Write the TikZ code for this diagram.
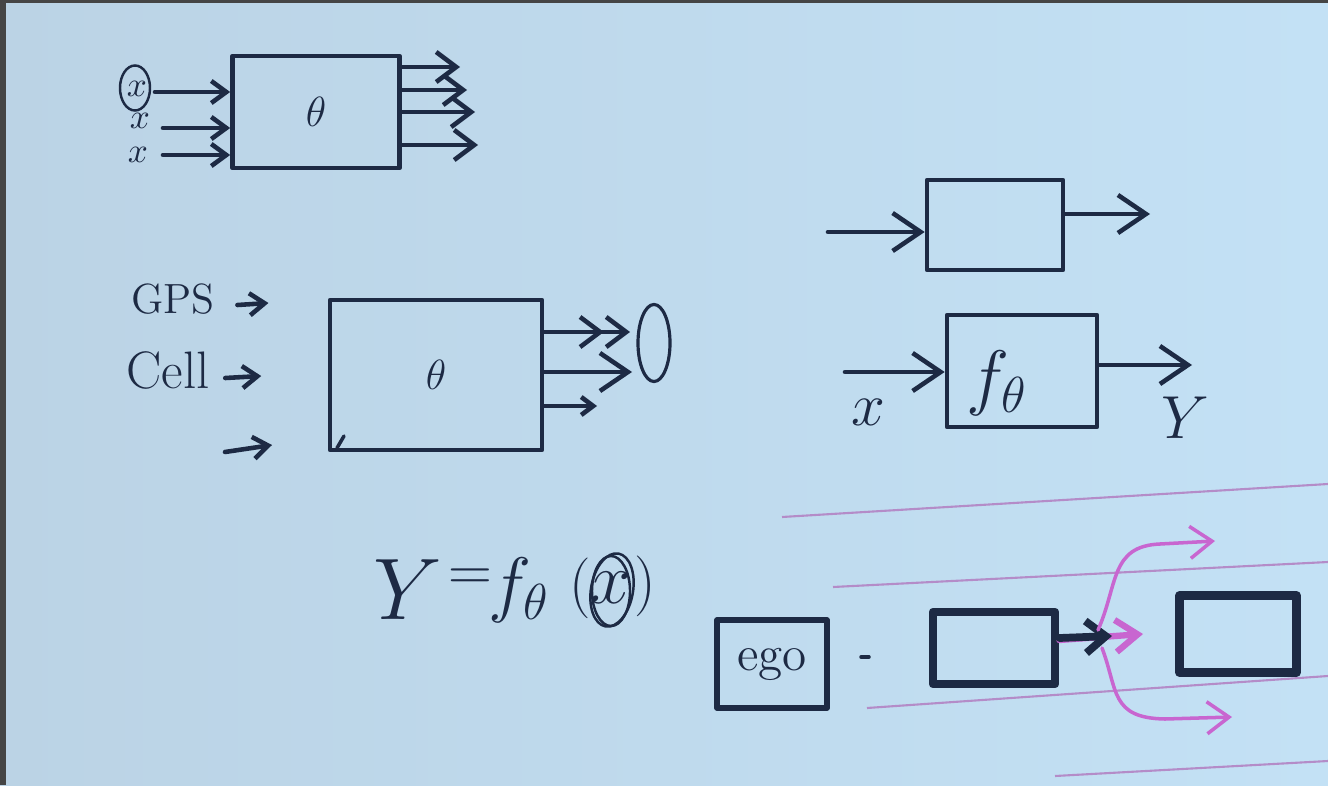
\documentclass[tikz,border=0pt]{standalone}
\usetikzlibrary{arrows.meta,shapes.geometric}
\definecolor{ink}{HTML}{1D2A44}
\definecolor{bgl}{HTML}{BBD3E5}
\definecolor{bgr}{HTML}{C3E1F5}
\definecolor{framec}{HTML}{454545}
\definecolor{mag}{HTML}{C866D0}
\definecolor{lane}{HTML}{B48CC8}
\begin{document}
\begin{tikzpicture}[x=0.01cm,y=-0.01cm,
  ink/.style={draw=ink, line width=1.3pt, line cap=round, line join=round},
  arr/.style={ink, -{Straight Barb[length=2mm,width=3mm]}},
  barr/.style={ink, -{Straight Barb[length=2.8mm,width=3.8mm]}},
  sarr/.style={ink, -{Straight Barb[length=1.5mm,width=2.2mm]}},
  blk/.style={ink, rectangle, inner sep=0pt, text=ink},
  boldbox/.style={blk, line width=2.4pt},
  lbl/.style={text=ink, inner sep=0pt},
  ring/.style={draw=ink, line width=0.7pt, ellipse, inner sep=0pt},
  laneline/.style={draw=lane, line width=0.6pt},
  magarr/.style={draw=mag, line width=1pt, line cap=round, -{Straight Barb[length=2.2mm,width=3.2mm]}}]
\useasboundingbox (0,0) rectangle (1328,785);
\shade[left color=bgl, right color=bgr] (0,0) rectangle (1328,785);
\fill[framec] (0,0) rectangle (6,785);
\fill[framec] (0,0) rectangle (1328,3);

% ---------- top box ----------
\node[blk, minimum width=1.67cm, minimum height=1.12cm, font=\fontsize{13}{15}\selectfont] (b1) at (316,112) {$\theta$};
\node[lbl, font=\fontsize{10}{12}\selectfont] (x1) at (137,89) {$x$};
\node[lbl, font=\fontsize{10}{12}\selectfont] (x2) at (140,121) {$x$};
\node[lbl, font=\fontsize{10}{12}\selectfont] (x3) at (138,155) {$x$};
\node[ring, minimum width=0.3cm, minimum height=0.45cm] (c1) at (135,88) {};
\coordinate (i1) at (155,92);
\coordinate (i2) at (163,128);
\coordinate (i3) at (163,155);
\draw[sarr] (i1) -- (i1 -| b1.west);
\draw[sarr] (i2) -- (i2 -| b1.west);
\draw[sarr] (i3) -- (i3 -| b1.west);
\coordinate (o1) at (460,67);
\coordinate (o2) at (467,90);
\coordinate (o3) at (475,112);
\coordinate (o4) at (478,145);
\draw[arr] (b1.east |- o1) -- (o1);
\draw[arr] (b1.east |- o2) -- (o2);
\draw[arr] (b1.east |- o3) -- (o3);
\draw[arr] (b1.east |- o4) -- (o4);

% ---------- middle box ----------
\node[blk, minimum width=2.12cm, minimum height=1.5cm, font=\fontsize{13}{15}\selectfont] (b2) at (436,375) {$\theta$};
\node[lbl, font=\fontsize{12}{14}\selectfont] (gps) at (173,299) {GPS};
\node[lbl, font=\fontsize{15}{18}\selectfont] (cell) at (168,370) {Cell};
\draw[sarr] ([xshift=0.22cm,yshift=-0.06cm]gps.east) -- ++(0.31cm,0.02cm);
\draw[sarr] ([xshift=0.15cm,yshift=-0.08cm]cell.east) -- ++(0.36cm,0.02cm);
\coordinate (i4s) at (225,452);
\coordinate (i4e) at (272,445);
\draw[sarr] (i4s) -- (i4e);
\draw[ink, line width=1pt] (344,436) -- (337,448);
\coordinate (p1) at (630,332);
\coordinate (p2) at (632,372);
\coordinate (p3) at (597,406);
\draw[ink, -{Straight Barb[length=2mm,width=3mm] Straight Barb[length=2mm,width=3mm]}] (b2.east |- p1) -- (p1);
\draw[barr] (b2.east |- p2) -- (p2);
\draw[ink, -{Straight Barb[length=1.2mm,width=1.8mm]}] (b2.east |- p3) -- (p3);
\node[ring, line width=0.9pt, minimum width=0.32cm, minimum height=0.77cm] (ell) at (654,343) {};

% ---------- right top box ----------
\node[blk, minimum width=1.36cm, minimum height=0.9cm] (b3) at (995,225) {};
\coordinate (r3in) at (828,232);
\coordinate (r3out) at (1150,214);
\draw[barr] (r3in) -- (r3in -| b3.west);
\draw[barr] (b3.east |- r3out) -- (r3out);

% ---------- f_theta box ----------
\node[blk, minimum width=1.5cm, minimum height=1.12cm] (b4) at (1022,371) {};
\node[lbl, font=\fontsize{20}{24}\selectfont] (ft) at (997,383) {$f_\theta$};
\coordinate (xin) at (845,372);
\coordinate (yout) at (1192,365);
\draw[barr] (xin) -- (xin -| b4.west);
\draw[barr] (b4.east |- yout) -- (yout);
\node[lbl, font=\fontsize{18}{21}\selectfont] (xl) at (868,412) {$x$};
\node[lbl, font=\fontsize{18}{21}\selectfont] (yl) at (1185,418) {$Y$};

% ---------- equation ----------
\node[lbl, font=\fontsize{25}{30}\selectfont] (eY) at (408,590) {$Y$};
\node[lbl, font=\fontsize{18}{22}\selectfont] (eeq) at (470,580) {$=$};
\node[lbl, font=\fontsize{20}{24}\selectfont] (ef) at (519,590) {$f_\theta$};
\node[lbl, font=\fontsize{18}{22}\selectfont] (elp) at (580,588) {$($};
\node[lbl, font=\fontsize{20}{24}\selectfont] (ex) at (611,588) {$x$};
\node[lbl, font=\fontsize{18}{22}\selectfont] (erp) at (645,586) {$)$};
\node[ring, minimum width=0.38cm, minimum height=0.7cm] (ec1) at (611,591) {};
\node[ring, minimum width=0.42cm, minimum height=0.74cm, rotate=-10] (ec2) at (612,590) {};

% ---------- lanes ----------
\coordinate (l1a) at (782,517); \coordinate (l1b) at (1328,484);
\coordinate (l2a) at (833,587); \coordinate (l2b) at (1328,562);
\coordinate (l3a) at (867,708); \coordinate (l3b) at (1328,676);
\coordinate (l4a) at (1055,776); \coordinate (l4b) at (1328,761);
\draw[laneline] (l1a) -- (l1b);
\draw[laneline] (l2a) -- (l2b);
\draw[laneline] (l3a) -- (l3b);
\draw[laneline] (l4a) -- (l4b);

\node[blk, line width=1.5pt, minimum width=1.1cm, minimum height=0.88cm, font=\fontsize{14}{17}\selectfont] (ego) at (772,664) {ego};
\draw[ink, line width=1pt] (861,657) -- (869,657);
\node[boldbox, minimum width=1.22cm, minimum height=0.72cm] (mb) at (994,648) {};
\node[boldbox, minimum width=1.17cm, minimum height=0.77cm] (rb) at (1238,634) {};

\coordinate (mt) at (1143,634);
\coordinate (bt) at (1112,636);
\coordinate (su) at (1098,630);
\coordinate (sd) at (1102,648);
\coordinate (ut) at (1215,541);
\coordinate (dt) at (1232,717);
\draw[magarr, line width=1.8pt] ([yshift=0.08cm]mb.east) -- (mt);
\draw[ink, line width=2.2pt, -{Straight Barb[length=2mm,width=3.2mm]}] ([yshift=0.1cm]mb.east) -- (bt);
\draw[magarr] (su) .. controls (1118,585) and (1110,546) .. (1160,544) -- (ut);
\draw[magarr] (sd) .. controls (1118,690) and (1110,718) .. (1165,719) -- (dt);
\end{tikzpicture}
\end{document}
